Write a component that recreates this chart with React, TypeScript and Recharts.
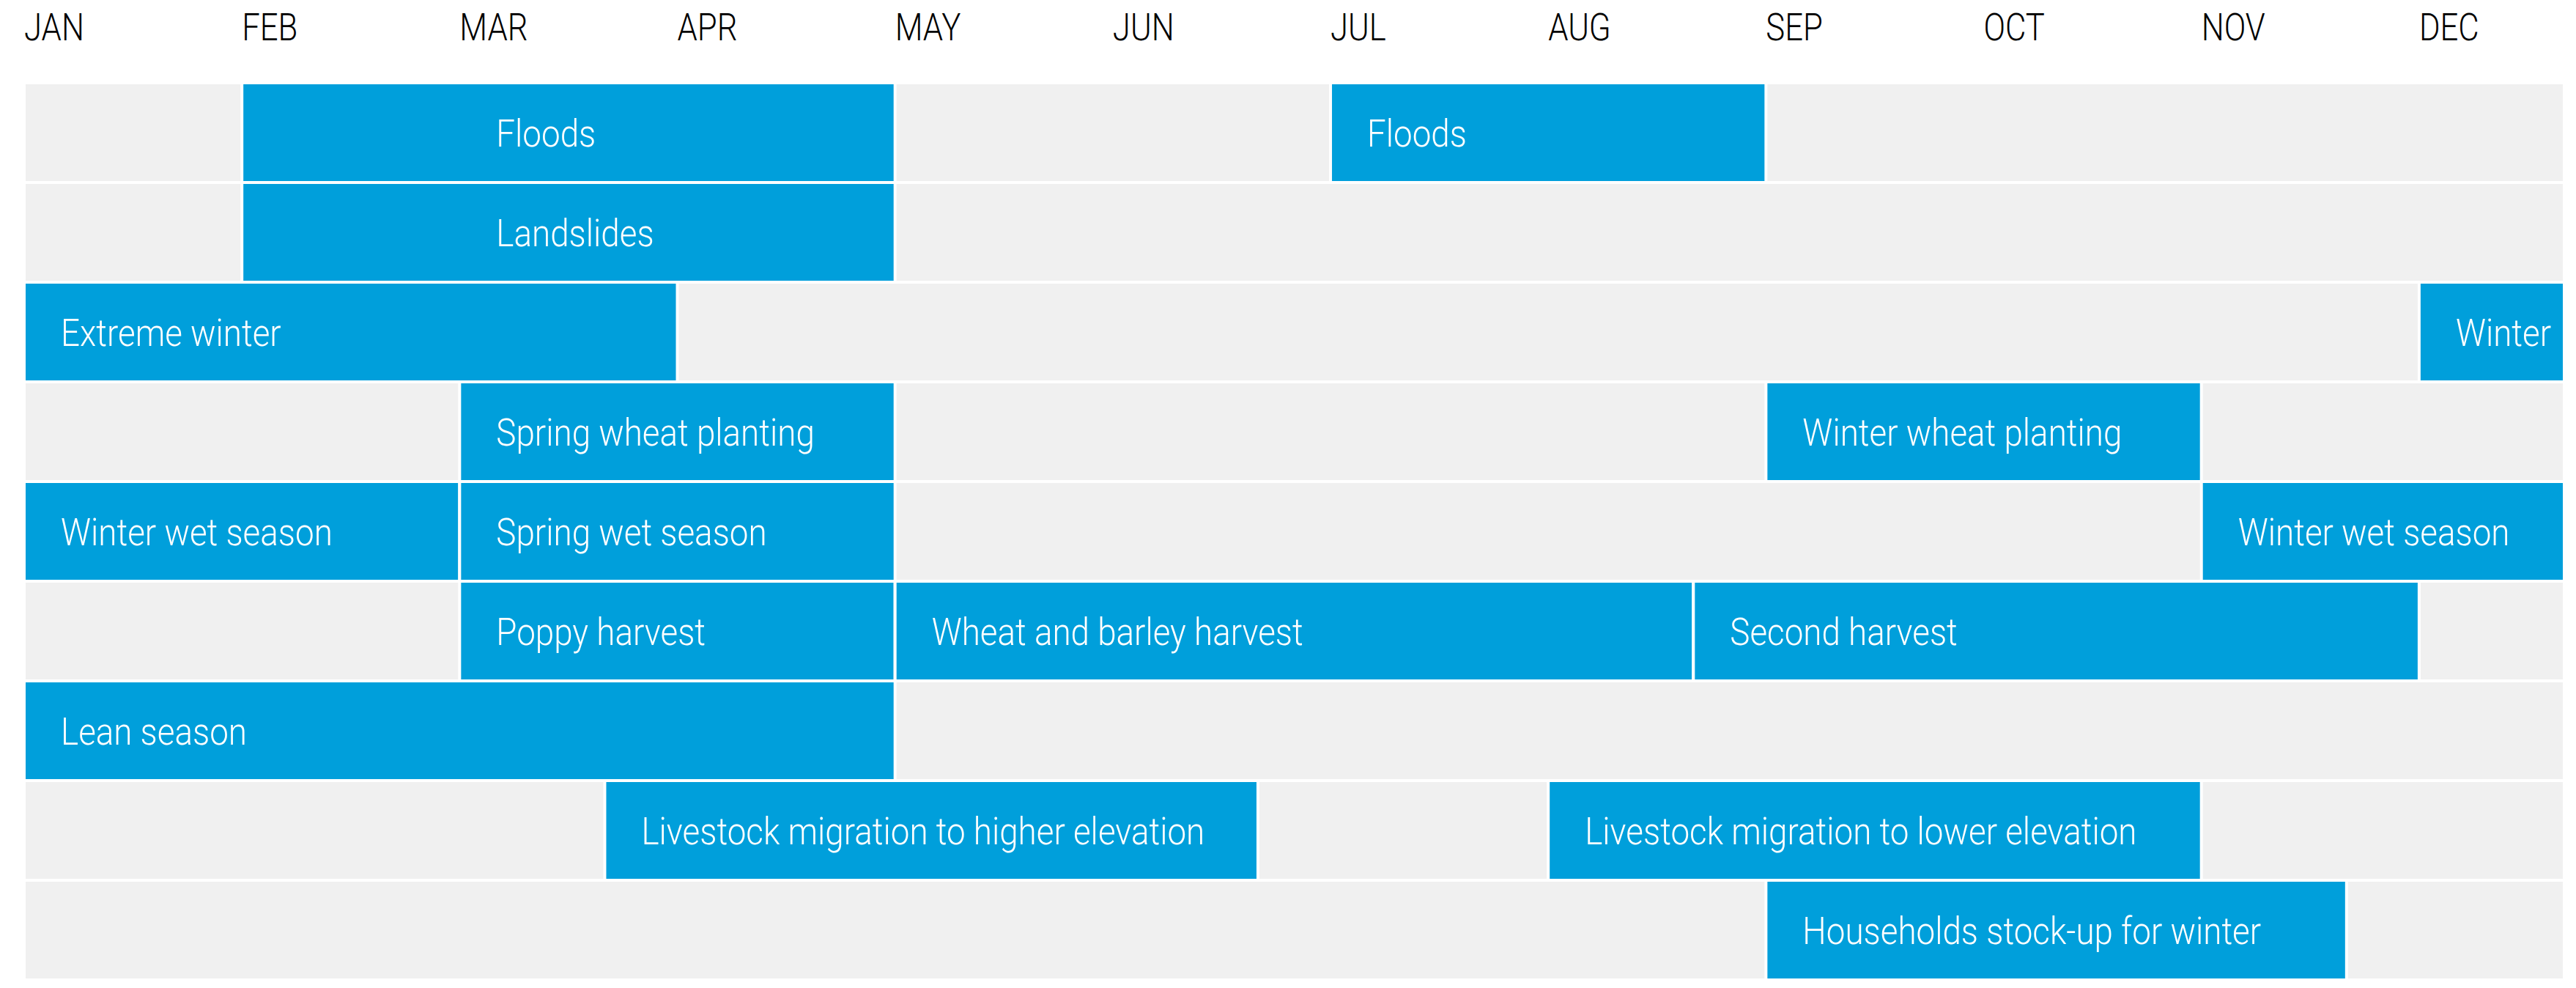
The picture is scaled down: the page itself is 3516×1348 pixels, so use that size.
import React from 'react';
import { ComposedChart, Bar, XAxis, YAxis, Rectangle } from 'recharts';

// Rows of the seasonal calendar (categories)
const rowKeys = ['floods', 'landslides', 'winter', 'planting', 'wet', 'harvest', 'lean', 'livestock', 'stockup'];

// Time is measured in thirds of a month (dekads) from 1 January: 0 = Jan 1, 3 = Feb 1, ..., 35 = Dec 20
const monthLabels = ['JAN', 'FEB', 'MAR', 'APR', 'MAY', 'JUN', 'JUL', 'AUG', 'SEP', 'OCT', 'NOV', 'DEC'];
const monthTicks = [0, 3, 6, 9, 12, 15, 18, 21, 24, 27, 30, 33];
const domainEnd = 35;

// Segment 1 per row
const seg1Start = [3, 3, 0, 6, 0, 6, 0, 8, 24];
const seg1End = [12, 12, 9, 12, 6, 12, 12, 17, 32];
const seg1Label = [
  'Floods',
  'Landslides',
  'Extreme winter',
  'Spring wheat planting',
  'Winter wet season',
  'Poppy harvest',
  'Lean season',
  'Livestock migration to higher elevation',
  'Households stock-up for winter',
];
// where the label text of segment 1 begins (dekad)
const seg1LabelFrom = [6, 6, 0, 6, 0, 6, 0, 8, 24];

// Segment 2 per row
const seg2Start = [18, null, 33, 24, 6, 12, null, 21, null];
const seg2End = [24, null, 35, 30, 12, 23, null, 30, null];
const seg2Label = ['Floods', null, 'Winter', 'Winter wheat planting', 'Spring wet season', 'Wheat and barley harvest', null, 'Livestock migration to lower elevation', null];

// Segment 3 per row
const seg3Start = [null, null, null, null, 30, 23, null, null, null];
const seg3End = [null, null, null, null, 35, 33, null, null, null];
const seg3Label = [null, null, null, null, 'Winter wet season', 'Second harvest', null, null, null];

const BLUE = '#009fdb';
const GREY = '#f0f0f0';
const FONT = 'Roboto, "Noto Sans", sans-serif';

const data = rowKeys.map((row, i) => ({
  row,
  s1: seg1Start[i] == null ? null : [seg1Start[i], seg1End[i]],
  l1: seg1Label[i],
  f1: seg1LabelFrom[i],
  s2: seg2Start[i] == null ? null : [seg2Start[i], seg2End[i]],
  l2: seg2Label[i],
  s3: seg3Start[i] == null ? null : [seg3Start[i], seg3End[i]],
  l3: seg3Label[i],
}));

const makeShape = (rangeKey: string, labelKey: string, fromKey?: string) => (props: any) => {
  const { x, y, width, height, payload } = props;
  const range = payload?.[rangeKey];
  if (!range || !width || !height) return <g />;
  const label = payload[labelKey];
  const from = fromKey ? payload[fromKey] : range[0];
  const tx = x + (width * (from - range[0])) / (range[1] - range[0]) + 50;
  const ty = y + height / 2 + 19;
  return (
    <g>
      <Rectangle x={x} y={y} width={width} height={height} fill={BLUE} stroke="#ffffff" strokeWidth={4} />
      {label ? (
        <text
          x={0}
          y={0}
          transform={`translate(${tx},${ty}) scale(0.88,1)`}
          fill="#ffffff"
          fontFamily={FONT}
          fontWeight={300}
          fontSize={52}
        >
          {label}
        </text>
      ) : null}
    </g>
  );
};

const MonthTick = (props: any) => {
  const { x, payload } = props;
  const idx = Math.round(payload.value / 3);
  return (
    <text
      x={0}
      y={0}
      transform={`translate(${x},55) scale(0.84,1)`}
      fill="#000000"
      fontFamily={FONT}
      fontWeight={300}
      fontSize={52}
    >
      {monthLabels[idx]}
    </text>
  );
};

export default function App() {
  return (
    <div style={{ margin: -8, width: 3516, height: 1348 }}>
      <ComposedChart
        width={3516}
        height={1348}
        data={data}
        layout="vertical"
        margin={{ top: 0, right: 16, bottom: 11, left: 33 }}
        barCategoryGap={0}
        barGap={0}
      >
        <XAxis
          type="number"
          orientation="top"
          domain={[0, domainEnd]}
          ticks={monthTicks}
          interval={0}
          height={113}
          axisLine={false}
          tickLine={false}
          tick={<MonthTick />}
          allowDataOverflow
        />
        <YAxis yAxisId="a" type="category" dataKey="row" hide />
        <YAxis yAxisId="b" type="category" dataKey="row" hide />
        <YAxis yAxisId="c" type="category" dataKey="row" hide />
        <Bar
          yAxisId="a"
          dataKey="s1"
          isAnimationActive={false}
          background={{ fill: GREY, stroke: '#ffffff', strokeWidth: 4 }}
          shape={makeShape('s1', 'l1', 'f1')}
        />
        <Bar yAxisId="b" dataKey="s2" isAnimationActive={false} shape={makeShape('s2', 'l2')} />
        <Bar yAxisId="c" dataKey="s3" isAnimationActive={false} shape={makeShape('s3', 'l3')} />
      </ComposedChart>
    </div>
  );
}
